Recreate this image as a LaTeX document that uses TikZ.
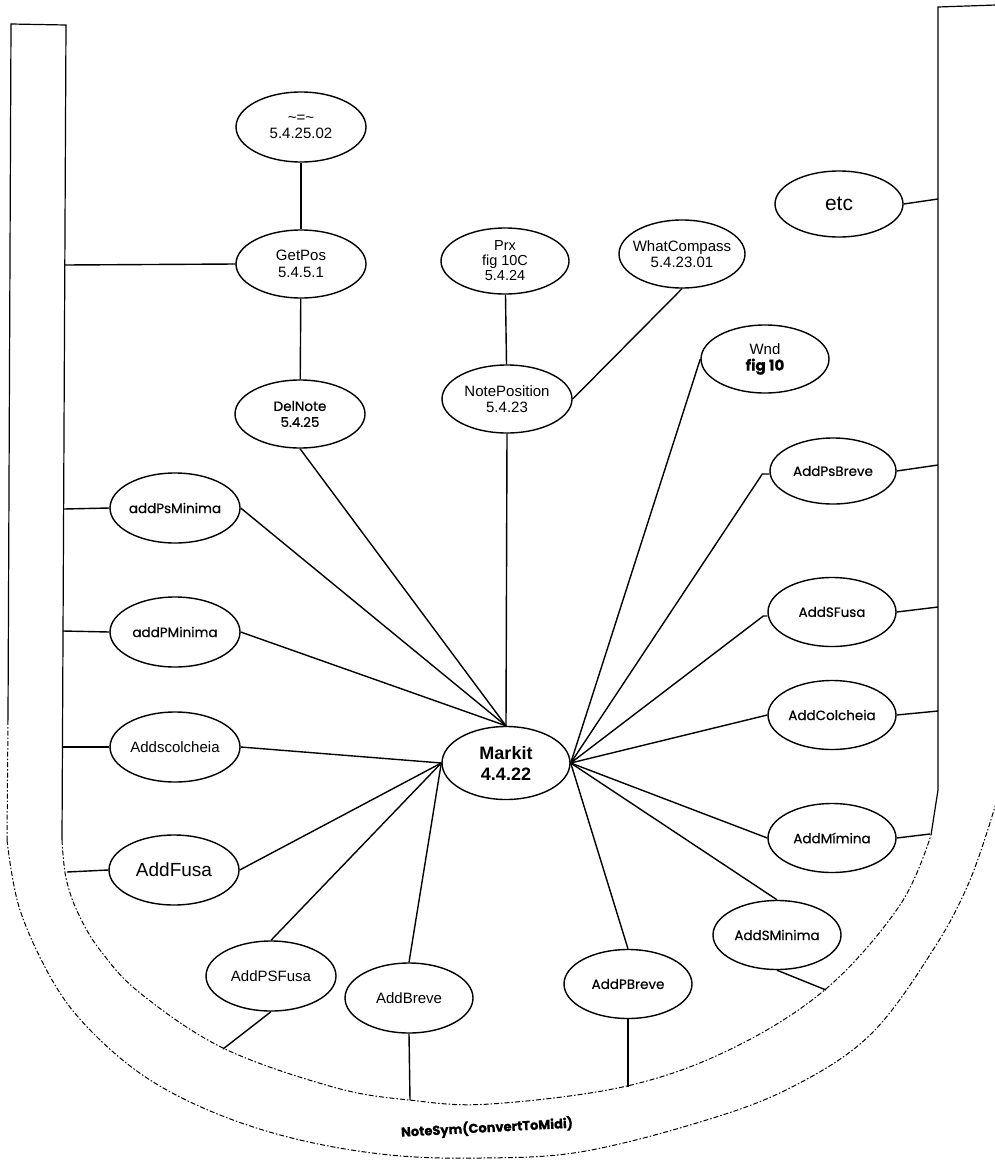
\documentclass[tikz,border=0pt]{standalone}
\usepackage{fontspec}
\setmainfont{Liberation Sans}
\newfontfamily\gothic{Poppins}[FakeBold=0.5]
\usetikzlibrary{shapes.geometric,calc}

\tikzset{
  proc/.style={ellipse, draw, line width=1.4pt, minimum width=128pt, minimum height=69pt, inner sep=0pt},
  arial/.style={font=\fontsize{15}{16.5}\selectfont, align=center},
  goth/.style={font=\gothic\fontsize{13.5}{16}\selectfont, align=center},
  link/.style={line width=1.4pt},
  wall/.style={line width=1.2pt},
  rim/.style={line width=1pt, dash pattern=on 5pt off 2pt on 1.5pt off 2pt},
}

\begin{document}
\begin{tikzpicture}[x=1pt, y=-1pt]
\useasboundingbox (0,0) rectangle (994,1165);

% U-shaped band: solid walls
\draw[wall] (62,840) -- (66,25) -- (11,24) -- (8,720);
\draw[wall] (931,835) -- (938,790) -- (938,7) -- (996,5);
% U-shaped band: dashed rims
\draw[rim] plot[smooth, tension=0.6] coordinates {(62,840) (66,878) (78,913) (100,950) (140,993) (223,1048) (333,1087) (409,1100) (490,1104) (627,1086) (733,1048) (827,988) (900,905) (931,835)};
\draw[rim] (8,720) -- (7,840);
\draw[rim] plot[smooth, tension=0.6] coordinates {(7,840) (20,910) (55,985) (95,1035) (150,1080) (220,1115) (300,1140) (390,1155) (480,1158) (580,1152) (700,1122) (790,1088) (870,1035) (933,950) (970,880) (997,800)};
\node[font=\gothic\bfseries\fontsize{13}{14}\selectfont, rotate=3] (notesym) at (487,1128) {NoteSym(ConvertToMidi)};

% anchor points on the band
\coordinate (wGetPos) at (65,265);
\coordinate (wPsMin) at (64,509);
\coordinate (wPMin) at (63,631);
\coordinate (wScol) at (63,747);
\coordinate (wFusa) at (67,872);
\coordinate (wPSFusa) at (223,1049);
\coordinate (wBreve) at (410,1100);
\coordinate (wPBreve) at (628,1087);
\coordinate (wSMin) at (826,990);
\coordinate (wMim) at (930,834);
\coordinate (wCol) at (938,711);
\coordinate (wSFusa) at (938,607);
\coordinate (wPsBreve) at (938,465);
\coordinate (wEtc) at (938,199);

% procedures
\node[proc, minimum width=130pt, minimum height=70pt, label={[arial]center:{\textasciitilde=\textasciitilde\\5.4.25.02}}] (tilde) at (301,127) {};
\node[proc, minimum width=130pt, minimum height=68pt, label={[arial]center:{GetPos\\5.4.5.1}}] (getpos) at (301,264) {};
\node[proc, minimum width=130pt, minimum height=68pt, label={[goth]center:{DelNote\\5.4.25}}] (delnote) at (300,414) {};
\node[proc, minimum width=130pt, minimum height=70pt, label={[goth]center:{addPsMinima}}] (addpsmin) at (175,508) {};
\node[proc, minimum width=130pt, minimum height=70pt, label={[goth]center:{addPMinima}}] (addpmin) at (175,632) {};
\node[proc, minimum width=130pt, minimum height=70pt, label={[arial]center:{Addscolcheia}}] (addscol) at (175,747) {};
\node[proc, minimum width=130pt, minimum height=70pt, label={[arial, font=\fontsize{19}{21}\selectfont]center:{AddFusa}}] (addfusa) at (174,870) {};
\node[proc, minimum width=130pt, minimum height=70pt, label={[arial]center:{AddPSFusa}}] (addpsfusa) at (271,976) {};
\node[proc, minimum width=128pt, minimum height=70pt, label={[arial]center:{AddBreve}}] (addbreve) at (409,998) {};
\node[proc, minimum width=128pt, minimum height=73pt, label={[arial, font=\bfseries\fontsize{18}{21}\selectfont]center:{Markit\\4.4.22}}] (markit) at (506,763) {};
\node[proc, label={[goth]center:{AddPBreve}}] (addpbreve) at (628,984) {};
\node[proc, label={[goth]center:{AddSMinima}}] (addsmin) at (777,935) {};
\node[proc, label={[goth]center:{AddMímina}}] (addmim) at (832,838) {};
\node[proc, label={[goth]center:{AddColcheia}}] (addcol) at (832,715) {};
\node[proc, label={[goth]center:{AddSFusa}}] (addsfusa) at (832,612) {};
\node[proc, minimum width=126pt, minimum height=66pt, label={[goth]center:{AddPsBreve}}] (addpsbreve) at (833,471) {};
\node[proc, minimum height=68pt, label={[arial]center:{Wnd\\{\gothic\bfseries fig 10}}}] (wnd) at (765,359) {};
\node[proc, minimum width=130pt, minimum height=68pt, label={[arial]center:{NotePosition\\5.4.23}}] (notepos) at (507,399) {};
\node[proc, minimum height=66pt, label={[arial, font=\fontsize{14.5}{15}\selectfont]center:{Prx\\fig 10C\\5.4.24}}] (prx) at (505,261) {};
\node[proc, minimum width=126pt, minimum height=68pt, label={[arial]center:{WhatCompass\\5.4.23.01}}] (whatc) at (682,254) {};
\node[proc, minimum height=66pt, label={[arial, font=\fontsize{21}{23}\selectfont]center:{etc}}] (etc) at (839,204) {};

% calls between procedures
\draw[link] (tilde) -- (getpos);
\draw[link] (getpos) -- (delnote);
\draw[link] (prx) -- (notepos);
\draw[link] (notepos.east) -- (whatc.south);
\draw[link] (notepos.south) -- (markit.north);
\draw[link] (delnote.south) -- (markit.north);
\draw[link] (addpsmin.east) -- (markit.north);
\draw[link] (addpmin.east) -- (markit.north);
\draw[link] (addscol.east) -- (markit.west);
\draw[link] (addfusa.east) -- (markit.west);
\draw[link] (addpsfusa.north) -- (markit.west);
\draw[link] (addbreve.north) -- (markit.west);
\draw[link] (markit.east) -- (wnd.west);
\draw[link] (markit.east) -- ($(addpsbreve.west)+(-7,3)$) -- ($(addpsbreve.west)+(0,3)$);
\draw[link] (markit.east) -- ($(addsfusa.west)+(-4,4)$) -- ($(addsfusa.west)+(0,4)$);
\draw[link] (markit.east) -- (addcol.west);
\draw[link] (markit.east) -- (addmim.west);
\draw[link] (markit.east) -- (addsmin.north);
\draw[link] (markit.east) -- (addpbreve.north);

% links to the band
\draw[link] (getpos.west) -- (wGetPos);
\draw[link] (addpsmin.west) -- (wPsMin);
\draw[link] (addpmin.west) -- (wPMin);
\draw[link] (addscol.west) -- (wScol);
\draw[link] (addfusa.west) -- (wFusa);
\draw[link] (addpsfusa.south) -- (wPSFusa);
\draw[link] (addbreve.south) -- (wBreve);
\draw[link] (addpbreve.south) -- (wPBreve);
\draw[link] (addsmin.south) -- (wSMin);
\draw[link] (addmim.east) -- (wMim);
\draw[link] (addcol.east) -- (wCol);
\draw[link] (addsfusa.east) -- (wSFusa);
\draw[link] (addpsbreve.east) -- (wPsBreve);
\draw[link] (etc.east) -- (wEtc);
\end{tikzpicture}
\end{document}
